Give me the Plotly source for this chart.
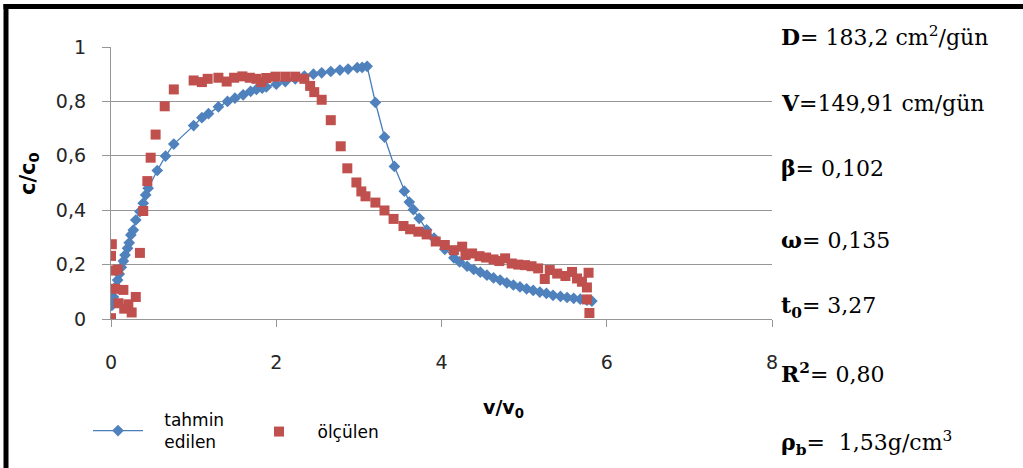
import plotly.graph_objects as go

# ---- data ----
tahmin_x = [0.01, 0.03, 0.05, 0.08, 0.10, 0.125, 0.15, 0.17, 0.20, 0.22, 0.24, 0.27, 0.30, 0.35,
            0.39, 0.42, 0.45, 0.56, 0.66, 0.76, 1.00, 1.10, 1.18, 1.30, 1.41, 1.50, 1.60, 1.69,
            1.76, 1.83, 1.88, 2.00, 2.11, 2.23, 2.34, 2.45, 2.55, 2.66, 2.77, 2.87, 2.98, 3.04,
            3.10, 3.20, 3.31, 3.43, 3.55, 3.61, 3.66, 3.73, 3.82, 3.91, 4.04, 4.15, 4.22, 4.31,
            4.39, 4.47, 4.55, 4.63, 4.71, 4.79, 4.87, 4.95, 5.03, 5.11, 5.19, 5.27, 5.35, 5.44,
            5.52, 5.60, 5.68, 5.76, 5.82]
tahmin_y = [0.05, 0.081, 0.116, 0.143, 0.165, 0.19, 0.213, 0.235, 0.26, 0.28, 0.309, 0.327, 0.364,
            0.395, 0.426, 0.456, 0.481, 0.546, 0.599, 0.643, 0.711, 0.74, 0.755, 0.78, 0.80, 0.812,
            0.824, 0.837, 0.844, 0.849, 0.853, 0.863, 0.873, 0.883, 0.893, 0.900, 0.905, 0.910,
            0.915, 0.919, 0.924, 0.925, 0.929, 0.796, 0.669, 0.561, 0.470, 0.430, 0.402, 0.370,
            0.328, 0.297, 0.256, 0.225, 0.21, 0.194, 0.182, 0.172, 0.161, 0.151, 0.143, 0.133,
            0.125, 0.118, 0.111, 0.105, 0.099, 0.094, 0.087, 0.083, 0.079, 0.076, 0.073, 0.069,
            0.066]

olculen_x = [0.00, 0.01, 0.00, 0.03, 0.08, 0.05, 0.15, 0.09, 0.16, 0.21, 0.25, 0.30, 0.35, 0.39,
             0.44, 0.48, 0.54, 0.65, 0.76, 1.00, 1.10, 1.17, 1.30, 1.40, 1.49, 1.59, 1.68, 1.76,
             1.82, 1.88, 1.99, 2.11, 2.23, 2.34, 2.41, 2.46, 2.55, 2.66, 2.78, 2.86, 2.97, 3.03,
             3.08, 3.20, 3.31, 3.42, 3.54, 3.62, 3.72, 3.82, 3.93, 4.04, 4.15, 4.25, 4.29, 4.37,
             4.46, 4.54, 4.63, 4.70, 4.77, 4.85, 4.93, 5.01, 5.09, 5.17, 5.25, 5.31, 5.40, 5.50,
             5.58, 5.64, 5.70, 5.76, 5.78, 5.76, 5.79]
olculen_y = [0.003, 0.275, 0.232, 0.178, 0.182, 0.111, 0.107, 0.058, 0.038, 0.054, 0.024, 0.081,
             0.243, 0.397, 0.507, 0.593, 0.678, 0.782, 0.844, 0.877, 0.871, 0.883, 0.887, 0.873,
             0.887, 0.892, 0.887, 0.883, 0.871, 0.886, 0.891, 0.891, 0.891, 0.883, 0.857, 0.834,
             0.806, 0.731, 0.635, 0.554, 0.502, 0.469, 0.451, 0.428, 0.399, 0.368, 0.342, 0.330,
             0.321, 0.311, 0.285, 0.272, 0.253, 0.266, 0.235, 0.241, 0.231, 0.226, 0.219, 0.213,
             0.223, 0.204, 0.200, 0.198, 0.194, 0.186, 0.147, 0.180, 0.167, 0.158, 0.173, 0.149,
             0.137, 0.116, 0.170, 0.072, 0.022]

x_ticks = [0, 2, 4, 6, 8]
y_ticks = [0, 0.2, 0.4, 0.6, 0.8, 1.0]
y_ticklabels = ["0", "0,2", "0,4", "0,6", "0,8", "1"]

params = [
    "<b>D</b>= 183,2 cm<sup>2</sup>/gün",
    "<b>V</b>=149,91 cm/gün",
    "<b>β</b>= 0,102",
    "<b>ω</b>= 0,135",
    "<b>t<sub>0</sub></b>= 3,27",
    "<b>R<sup>2</sup></b>= 0,80",
    "<b>ρ<sub>b</sub></b>=\u00a0 1,53g/cm<sup>3</sup>",
]
param_ypix = [36, 103, 168, 240, 307, 373, 443]

# ---- layout geometry ----
W, H = 1023, 468
L, R, T, B = 111, 1023 - 772, 47, 468 - 319
PW, PH = W - L - R, H - T - B


def px(x):
    return (x - L) / PW


def py(y):
    return (H - B - y) / PH


GRID = "#969696"
SANS = "DejaVu Sans"
SERIF = "DejaVu Serif"
PAD = "\u00a0\u00a0\u00a0"

fig = go.Figure()
fig.add_trace(go.Scatter(
    x=tahmin_x, y=tahmin_y, mode="lines+markers",
    name=PAD + "tahmin<br>" + PAD + "edilen", legend="legend",
    line=dict(color="#4A7EBB", width=1.3),
    marker=dict(symbol="diamond", size=9, color="#4F81BD"),
))
fig.add_trace(go.Scatter(
    x=olculen_x, y=olculen_y, mode="markers", name="\u2002ölçülen", legend="legend2",
    marker=dict(symbol="square", size=10, color="#C0504D"),
))

annotations = []
for txt, yp in zip(params, param_ypix):
    annotations.append(dict(
        text=txt, xref="paper", yref="paper", x=px(779), y=py(yp),
        xanchor="left", yanchor="middle", showarrow=False,
        font=dict(family=SERIF, size=22, color="#000000"),
    ))
annotations.append(dict(
    text="<b>v/v<sub>0</sub></b>", xref="paper", yref="paper", x=px(503), y=py(408),
    xanchor="center", yanchor="middle", showarrow=False,
    font=dict(family=SANS, size=19, color="#000000"),
))
annotations.append(dict(
    text="<b>c/c<sub>0</sub></b>", xref="paper", yref="paper", x=px(29), y=py(174),
    xanchor="center", yanchor="middle", showarrow=False, textangle=-90,
    font=dict(family=SANS, size=21, color="#000000"),
))

shapes = [
    dict(type="line", xref="paper", yref="paper", x0=px(6), x1=px(6), y0=py(4), y1=py(470),
         line=dict(color="black", width=5)),
    dict(type="line", xref="paper", yref="paper", x0=px(3.5), x1=px(1025), y0=py(6.5), y1=py(6.5),
         line=dict(color="black", width=5)),
]

legend_common = dict(
    orientation="h", xref="container", yref="container",
    xanchor="left", yanchor="middle",
    font=dict(family=SANS, size=17, color="#000000"),
    bgcolor="rgba(0,0,0,0)", itemwidth=50,
)

fig.update_layout(
    width=W, height=H,
    margin=dict(l=L, r=R, t=T, b=B, autoexpand=False),
    paper_bgcolor="white", plot_bgcolor="white",
    font=dict(family=SANS, size=19, color="#262626"),
    showlegend=True,
    legend=dict(x=88 / W, y=1 - 431 / H, **legend_common),
    legend2=dict(x=249 / W, y=1 - 432 / H, **legend_common),
    annotations=annotations,
    shapes=shapes,
    xaxis=dict(
        range=[0, 8], tickvals=x_ticks, ticktext=[str(v) for v in x_ticks],
        showgrid=False, zeroline=False, showline=True, linecolor=GRID, linewidth=1.3,
        ticks="outside", ticklen=7, tickcolor=GRID, tickwidth=1.3,
        ticklabelstandoff=19, automargin=False,
        tickfont=dict(family=SANS, size=19, color="#262626"),
    ),
    yaxis=dict(
        range=[0, 1], tickvals=y_ticks, ticktext=y_ticklabels,
        showgrid=True, gridcolor=GRID, gridwidth=1.3, zeroline=False,
        showline=True, linecolor=GRID, linewidth=1.3,
        ticks="outside", ticklen=8, tickcolor=GRID, tickwidth=1.3,
        ticklabelstandoff=12, automargin=False,
        tickfont=dict(family=SANS, size=19, color="#262626"),
    ),
)

fig.write_html("out.html")
